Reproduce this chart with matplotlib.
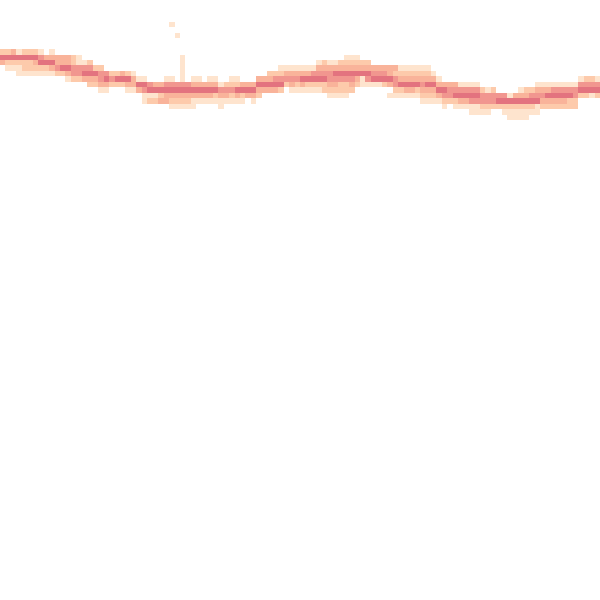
import numpy as np
import matplotlib
matplotlib.use("Agg")
import matplotlib.pyplot as plt
from matplotlib.colors import ListedColormap, BoundaryNorm

n_cols = 110
n_rows = 110

# per column: first filled row (from top) and the density levels going down
col_tops = [
    9, 9, 9, 9, 9, 9, 9, 9, 10, 9,
    10, 10, 10, 10, 10, 11, 11, 12, 12, 13,
    13, 13, 13, 13, 13, 14, 14, 15, 15, 15,
    14, 4, 6, 10, 15, 14, 14, 15, 14, 14,
    15, 15, 14, 14, 15, 15, 15, 14, 14, 13,
    13, 12, 12, 12, 12, 12, 12, 12, 11, 11,
    11, 11, 11, 10, 10, 10, 11, 11, 12, 12,
    12, 12, 12, 12, 12, 12, 12, 12, 12, 13,
    14, 15, 15, 15, 15, 15, 15, 15, 16, 16,
    16, 17, 17, 17, 17, 16, 16, 16, 15, 15,
    15, 15, 15, 15, 15, 15, 14, 14, 14, 14,
]
col_levels = [
    "253", "2521", "3521", "15211", "25221", "25221", "25321", "14521", "3521", "13531",
    "3342", "3352", "33531", "22442", "11442", "1453", "24532", "2532", "24431", "4531",
    "242", "252", "352", "2531", "1331", "153", "15411", "4512", "3512", "3523",
    "14533", "1000000000145321", "10000000045321", "1111145321", "45321", "135311", "13531", "3531", "13531", "13521",
    "14311", "2431", "12421", "12531", "3521", "353", "3531", "3532", "353", "2353",
    "2453", "12452", "1342", "13431", "13421", "13531", "13521", "14521", "134521", "234522",
    "1344321", "1354321", "2354221", "12354221", "1235432", "123532", "23511", "23541", "3451", "3451",
    "3452", "335301", "324421", "123521", "123531", "123531", "123521", "1234321", "1235321", "135321",
    "13531", "35421", "3442", "34521", "14531", "14531", "145411", "145411", "24421", "14421",
    "2442", "452", "4521", "15211", "35211", "135211", "235211", "24521", "134511", "13432",
    "13532", "14532", "14532", "14532", "14522", "14422", "1452", "2452", "2451", "1452",
]

level_colors = ["#ffffff", "#fee4ce", "#fdcaab", "#f9b39a", "#f1968f", "#e3737f"]

grid = np.zeros((n_rows, n_cols))
for c, (top, levels) in enumerate(zip(col_tops, col_levels)):
    for k, ch in enumerate(levels):
        grid[top + k, c] = int(ch)

fig = plt.figure(figsize=(6, 6), dpi=100)
ax = fig.add_axes([0, 0, 1, 1])
cmap = ListedColormap(level_colors)
norm = BoundaryNorm(np.arange(-0.5, len(level_colors) + 0.5), cmap.N)
ax.pcolormesh(np.arange(n_cols + 1), np.arange(n_rows + 1), grid, cmap=cmap, norm=norm)
ax.set_xlim(0, n_cols)
ax.set_ylim(n_rows, 0)
ax.axis("off")
fig.savefig("out.png", dpi=100, facecolor="white")
